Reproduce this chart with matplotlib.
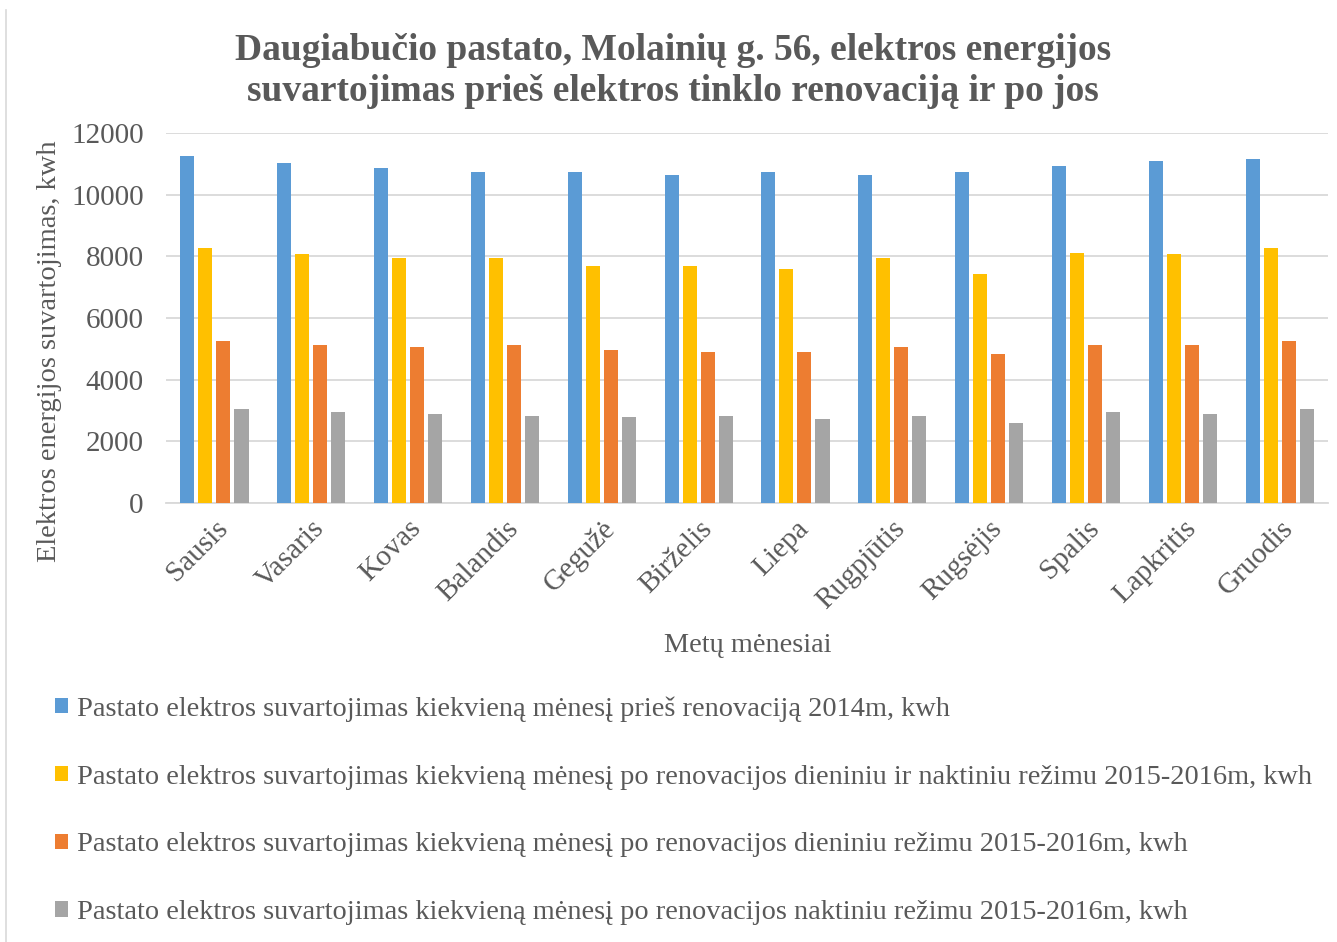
import matplotlib
matplotlib.use("Agg")
import matplotlib.pyplot as plt
import numpy as np
from matplotlib.lines import Line2D
from matplotlib.patches import Patch

months = ["Sausis", "Vasaris", "Kovas", "Balandis", "Gegužė", "Birželis",
          "Liepa", "Rugpjūtis", "Rugsėjis", "Spalis", "Lapkritis", "Gruodis"]

before_2014 = [11270, 11040, 10860, 10750, 10750, 10650,
               10750, 10650, 10750, 10920, 11100, 11160]
after_day_night = [8280, 8060, 7950, 7950, 7700, 7700,
                   7590, 7950, 7420, 8110, 8060, 8280]
after_day = [5250, 5120, 5060, 5120, 4960, 4890,
             4890, 5060, 4830, 5120, 5120, 5250]
after_night = [3060, 2950, 2880, 2830, 2780, 2830,
               2710, 2830, 2590, 2950, 2880, 3060]

series_labels = [
    "Pastato elektros suvartojimas kiekvieną mėnesį prieš renovaciją 2014m, kwh",
    "Pastato elektros suvartojimas kiekvieną mėnesį po renovacijos dieniniu ir naktiniu režimu 2015-2016m, kwh",
    "Pastato elektros suvartojimas kiekvieną mėnesį po renovacijos dieniniu režimu 2015-2016m, kwh",
    "Pastato elektros suvartojimas kiekvieną mėnesį po renovacijos naktiniu režimu 2015-2016m, kwh",
]
colors = ["#5B9BD5", "#FFC000", "#ED7D31", "#A5A5A5"]
txt = "#595959"

plt.rcParams["font.family"] = ["Liberation Serif", "DejaVu Serif"]

fig = plt.figure(figsize=(13.37, 9.42), dpi=100)
ax = fig.add_axes([0.1242, 0.466, 0.8691, 0.3928])

x = np.arange(len(months))
pitch = 0.186
width = 0.145
all_series = [before_2014, after_day_night, after_day, after_night]
for i, vals in enumerate(all_series):
    ax.bar(x + (i - 1.5) * pitch, vals, width, color=colors[i], zorder=3)

ax.set_xlim(-0.5, len(months) - 0.5)
ax.set_ylim(0, 12000)
ax.set_yticks(range(0, 12001, 2000))
ax.grid(axis="y", color="#D9D9D9", linewidth=1.3, zorder=0)
for s in ["top", "right", "left"]:
    ax.spines[s].set_visible(False)
ax.spines["bottom"].set_color("#D9D9D9")
ax.spines["bottom"].set_linewidth(1.3)
ax.tick_params(axis="y", length=0, pad=16, labelsize=21, labelcolor=txt)
ax.tick_params(axis="x", length=0, pad=9, labelsize=21, labelcolor=txt)
ax.set_xticks(x)
ax.set_xticklabels(months, rotation=45, ha="right", rotation_mode="anchor")

fig.text(748 / 1337, 1 - 645 / 942, "Metų mėnesiai", ha="center", va="center",
         fontsize=20.3, color=txt)
fig.text(50 / 1337, 1 - 351 / 942, "Elektros energijos suvartojimas, kwh",
         ha="center", va="center", rotation=90, fontsize=20.5, color=txt)

fig.text(673 / 1337, 1 - 71 / 942,
         "Daugiabučio pastato, Molainių g. 56, elektros energijos\n"
         "suvartojimas prieš elektros tinklo renovaciją ir po jos",
         ha="center", va="center", fontsize=27, fontweight="bold", color=txt,
         linespacing=1.22)

handles = [Patch(facecolor=c) for c in colors]
leg = fig.legend(handles, series_labels, loc="upper left",
                 bbox_to_anchor=(44 / 1337, 1 - 685 / 942), frameon=False,
                 fontsize=20.4, labelcolor=txt, handlelength=0.45, handleheight=0.45,
                 handletextpad=0.3, labelspacing=1.51, borderaxespad=0)

fig.add_artist(Line2D([6 / 1337, 6 / 1337], [0, 1 - 10 / 942], color="#D9D9D9",
                      linewidth=1.2, transform=fig.transFigure))

fig.savefig("out.png", dpi=100)
